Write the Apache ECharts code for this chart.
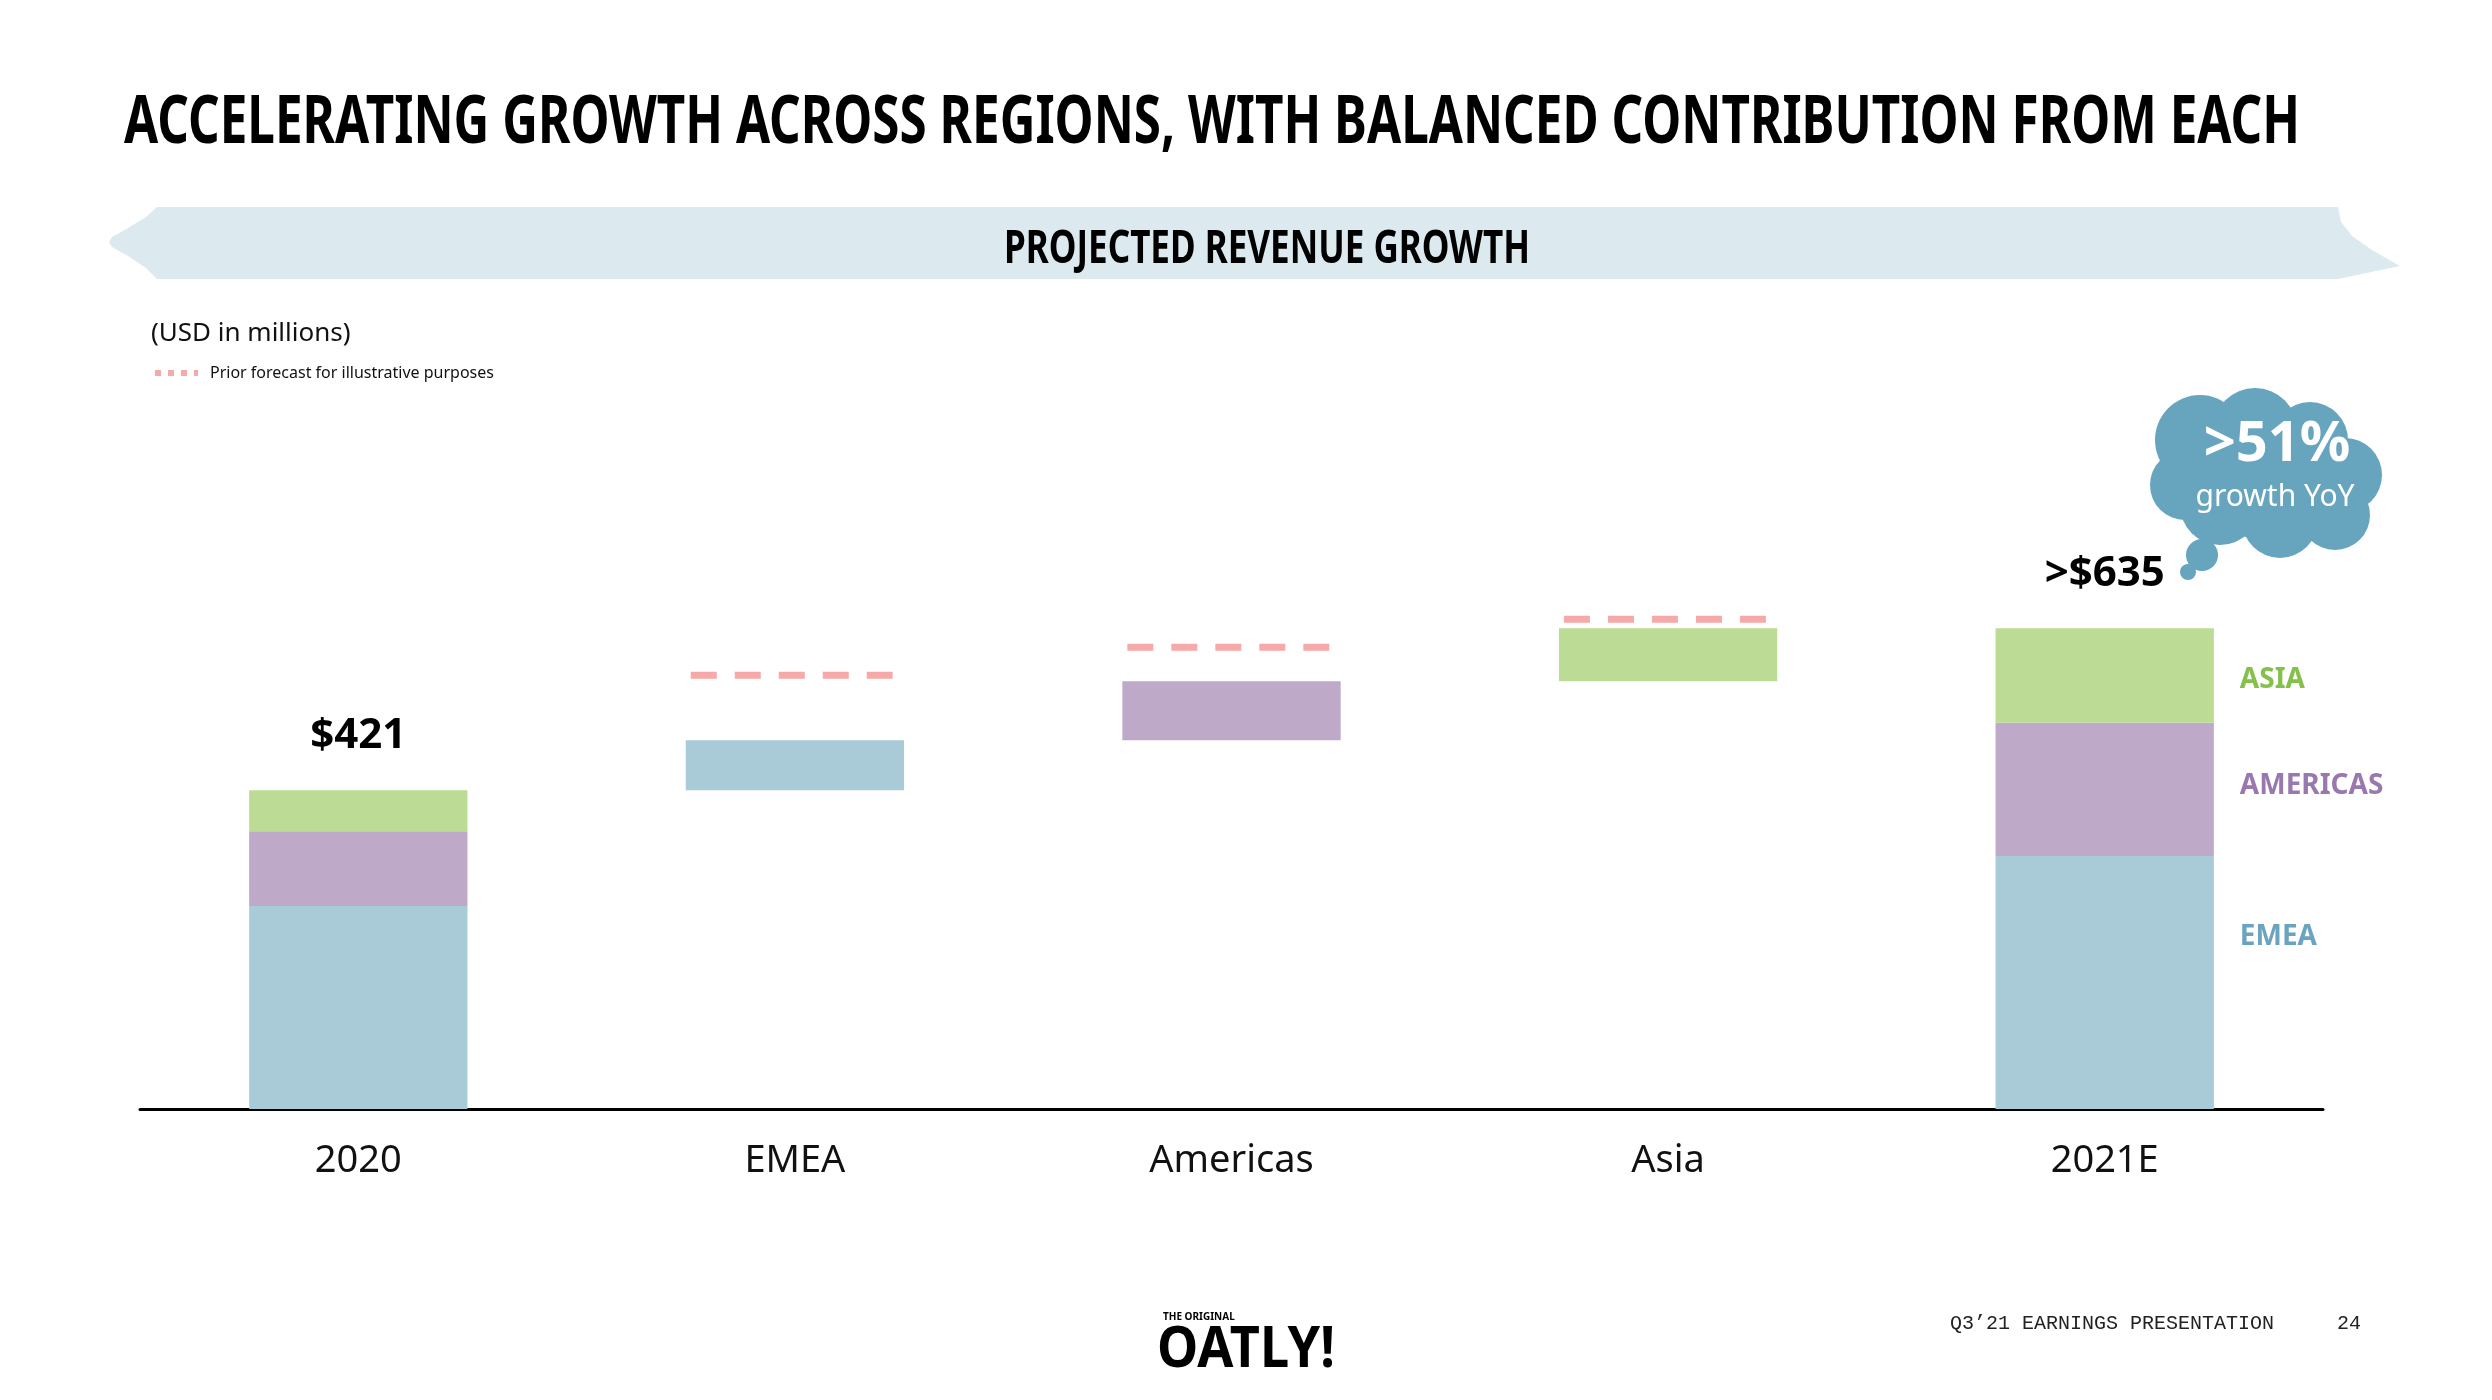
<!DOCTYPE html>
<html>
<head>
<meta charset="utf-8">
<title>Projected revenue growth</title>
<script src="https://cdn.jsdelivr.net/npm/echarts@6/dist/echarts.min.js"></script>
<style>
  html, body { margin: 0; padding: 0; background: #fff; }
  #main { width: 2492px; height: 1400px; }
</style>
</head>
<body>
<div id="main"></div>
<script>
// values in USD millions
var categories = ['2020', 'EMEA', 'Americas', 'Asia', '2021E'];
var emea = [268, 66, '-', '-', 334];
var americas = [99, '-', 78, '-', 176];
var asia = [54, '-', '-', 70, 125];
var priorForecast = ['-', 573, 610, 647, '-'];
var totalLabels = ['$421', '', '', '', '>$635'];
var regionLabels = ['EMEA', 'AMERICAS', 'ASIA'];

var colors = {
    emea: '#a8cbd7',
    americas: '#bea9c8',
    asia: '#bcdb94',
    forecast: '#f7a8a8',
    emeaText: '#6aa4c0',
    americasText: '#9878ae',
    asiaText: '#85c04a',
    banner: '#dceaf0',
    cloud: '#67a4be'
};

function num(v) { return v === '-' ? 0 : v; }

// invisible base for the floating (waterfall) bars
var base = [];
var running = 0;
categories.forEach(function (c, i) {
    var total = num(emea[i]) + num(americas[i]) + num(asia[i]);
    if (i === 0 || i === categories.length - 1) {
        base.push(0);
        running = total;
    } else {
        base.push(running);
        running += total;
    }
});

var last = categories.length - 1;
var sans = '"Noto Sans", sans-serif';

// no condensed display font here, so squeeze bold text horizontally
var measureCtx = document.createElement('canvas').getContext('2d');
function squeeze(text, size, target) {
    measureCtx.font = 'bold ' + size + 'px "Noto Sans"';
    return target / measureCtx.measureText(text).width;
}

function regionData(arr, name, color, offset) {
    return arr.map(function (v, i) {
        if (i !== last) return v;
        return {
            value: v,
            label: {
                show: true,
                position: 'right',
                distance: 26,
                offset: offset,
                formatter: name,
                color: color,
                fontFamily: sans,
                fontWeight: 'bold',
                fontSize: 28
            }
        };
    });
}

var totals = totalLabels.map(function (t) {
    if (!t) return '-';
    return { value: 0, label: { show: true, formatter: t } };
});

var forecastData = [];
priorForecast.forEach(function (v, i) {
    if (v !== '-') forecastData.push([i, v]);
});

var titleText = 'ACCELERATING GROWTH ACROSS REGIONS, WITH BALANCED CONTRIBUTION FROM EACH';
var bannerText = 'PROJECTED REVENUE GROWTH';
var logoText = 'OATLY!';

var myChart = echarts.init(document.getElementById('main'));

var option = {
    backgroundColor: '#fff',
    animation: false,
    grid: { left: 140, right: 169, top: 579, bottom: 291 },
    xAxis: {
        type: 'category',
        data: categories,
        axisTick: { show: false },
        axisLine: { lineStyle: { color: '#000', width: 3 } },
        axisLabel: {
            color: '#111',
            fontFamily: sans,
            fontSize: 38,
            margin: 33
        }
    },
    yAxis: {
        type: 'value',
        min: 0,
        max: 700,
        show: false,
        splitLine: { show: false }
    },
    series: [
        {
            name: 'base',
            type: 'bar',
            stack: 'total',
            barWidth: '50%',
            silent: true,
            itemStyle: { color: 'transparent' },
            data: base
        },
        {
            name: 'EMEA',
            type: 'bar',
            stack: 'total',
            barWidth: '50%',
            itemStyle: { color: colors.emea },
            data: regionData(emea, regionLabels[0], colors.emeaText, [0, -46])
        },
        {
            name: 'Americas',
            type: 'bar',
            stack: 'total',
            barWidth: '50%',
            itemStyle: { color: colors.americas },
            data: regionData(americas, regionLabels[1], colors.americasText, [0, -3])
        },
        {
            name: 'Asia',
            type: 'bar',
            stack: 'total',
            barWidth: '50%',
            itemStyle: { color: colors.asia },
            data: regionData(asia, regionLabels[2], colors.asiaText, [0, 4])
        },
        {
            name: 'total',
            type: 'bar',
            stack: 'total',
            barWidth: '50%',
            silent: true,
            itemStyle: { color: 'transparent' },
            label: {
                position: 'top',
                distance: 33,
                color: '#000',
                fontFamily: sans,
                fontWeight: 'bold',
                fontSize: 42,
                lineHeight: 42
            },
            data: totals
        },
        {
            name: 'Prior forecast',
            type: 'custom',
            silent: true,
            encode: { x: 0, y: 1 },
            renderItem: function (params, api) {
                var p = api.coord([api.value(0), api.value(1)]);
                var bw = api.size([1, 0])[0] * 0.5;
                var x1 = p[0] - bw / 2 + 5;
                return {
                    type: 'line',
                    shape: { x1: x1, y1: p[1], x2: x1 + bw * 0.925, y2: p[1] },
                    style: { stroke: colors.forecast, lineWidth: 7, lineDash: [26, 18] }
                };
            },
            data: forecastData
        }
    ],
    graphic: [
        {
            type: 'text', x: 124, y: 124,
            scaleX: squeeze(titleText, 66, 2176),
            style: {
                text: titleText, fill: '#000', fontFamily: sans, fontWeight: 'bold',
                fontSize: 66, verticalAlign: 'middle'
            }
        },
        {
            type: 'polygon',
            shape: {
                points: [
                    [157, 207], [2338, 207], [2341, 222], [2352, 236], [2372, 250], [2400, 266],
                    [2338, 279], [157, 279], [146, 268], [128, 256], [112, 247], [109, 242],
                    [112, 237], [128, 228], [146, 217]
                ]
            },
            style: { fill: colors.banner }
        },
        {
            type: 'text', x: 1267, y: 250,
            scaleX: squeeze(bannerText, 46, 526),
            style: {
                text: bannerText, fill: '#000',
                fontFamily: sans, fontWeight: 'bold', fontSize: 46,
                align: 'center', verticalAlign: 'middle'
            }
        },
        {
            type: 'text', x: 151, y: 334,
            style: {
                text: '(USD in millions)', fill: '#111',
                fontFamily: sans, fontSize: 26, verticalAlign: 'middle'
            }
        },
        {
            type: 'line',
            shape: { x1: 155, y1: 373, x2: 198, y2: 373 },
            style: { stroke: colors.forecast, lineWidth: 6, lineDash: [6, 7] }
        },
        {
            type: 'text', x: 210, y: 373,
            style: {
                text: 'Prior forecast for illustrative purposes', fill: '#111',
                fontFamily: sans, fontSize: 16, verticalAlign: 'middle'
            }
        },
        {
            type: 'group',
            children: [
                [2265, 475, 65], [2200, 440, 45], [2255, 430, 42], [2310, 440, 38],
                [2345, 475, 37], [2335, 515, 35], [2280, 520, 38], [2220, 505, 40],
                [2185, 485, 35], [2202, 555, 16], [2188, 572, 8]
            ].map(function (c) {
                return { type: 'circle', shape: { cx: c[0], cy: c[1], r: c[2] }, style: { fill: colors.cloud } };
            })
        },
        {
            type: 'text', x: 2277, y: 445,
            style: {
                text: '>51%', fill: '#fff', fontFamily: sans, fontWeight: 'bold',
                fontSize: 56, align: 'center', verticalAlign: 'middle'
            }
        },
        {
            type: 'text', x: 2275, y: 497,
            style: {
                text: 'growth YoY', fill: '#fff', fontFamily: sans,
                fontSize: 30, align: 'center', verticalAlign: 'middle'
            }
        },
        {
            type: 'text', x: 1163, y: 1317,
            style: {
                text: 'THE ORIGINAL', fill: '#000', fontFamily: sans, fontWeight: 'bold',
                fontSize: 10, verticalAlign: 'middle'
            }
        },
        {
            type: 'text', x: 1157, y: 1350,
            scaleX: squeeze(logoText, 58, 178),
            style: {
                text: logoText, fill: '#000', fontFamily: sans, fontWeight: 'bold',
                fontSize: 58, verticalAlign: 'middle'
            }
        },
        {
            type: 'text', x: 1950, y: 1324,
            style: {
                text: 'Q3\u201921 EARNINGS PRESENTATION', fill: '#222',
                fontFamily: '"Liberation Mono", "DejaVu Sans Mono", monospace',
                fontSize: 20, verticalAlign: 'middle'
            }
        },
        {
            type: 'text', x: 2349, y: 1324,
            style: {
                text: '24', fill: '#222',
                fontFamily: '"Liberation Mono", "DejaVu Sans Mono", monospace',
                fontSize: 20, align: 'center', verticalAlign: 'middle'
            }
        }
    ]
};

myChart.setOption(option);
</script>
</body>
</html>
